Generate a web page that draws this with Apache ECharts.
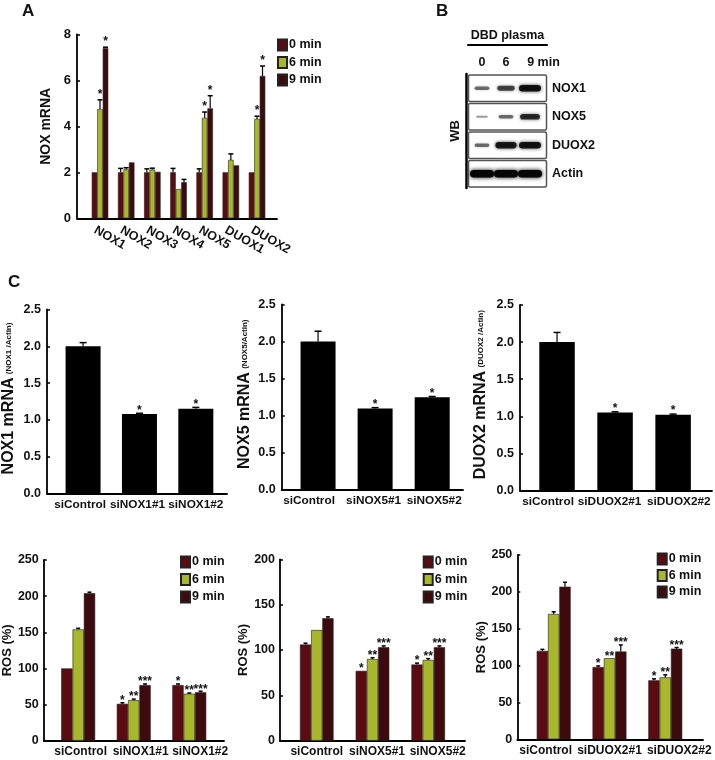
<!DOCTYPE html>
<html><head><meta charset="utf-8">
<script src="https://cdn.jsdelivr.net/npm/echarts@6/dist/echarts.min.js"></script>
<style>html,body{margin:0;padding:0;background:#fff}#c{width:715px;height:760px}</style>
</head><body><div id="c"></div>
<script>
// ================= DATA =================
const timeNames = ['0 min', '6 min', '9 min'];

// Panel A
const catsA = ['NOX1', 'NOX2', 'NOX3', 'NOX4', 'NOX5', 'DUOX1', 'DUOX2'];
const yTicksA = [0, 2, 4, 6, 8];
const a0 = [2.0, 2.0, 2.0, 2.0, 2.0, 2.0, 2.0];
const a0Err = [0, 0.17, 0.15, 0.17, 0.15, 0, 0];
const a6 = [4.75, 2.13, 2.12, 1.27, 4.37, 2.54, 4.32];
const a6Err = [0.4, 0.07, 0.06, 0, 0.25, 0.26, 0.12];
const a9 = [7.4, 2.43, 2.02, 1.57, 4.78, 2.3, 6.19];
const a9Err = [0.04, 0, 0, 0.12, 0.55, 0, 0.43];
const a0Sig = ['', '', '', '', '', '', ''];
const a6Sig = ['*', '', '', '', '*', '', '*'];
const a9Sig = ['*', '', '', '', '*', '', '*'];

// Panel B (western blot band intensities, lanes 0/6/9 min)
const blotLanes = ['0', '6', '9 min'];
const blotProteins = ['NOX1', 'NOX5', 'DUOX2', 'Actin'];
const bandNOX1 = [0.35, 0.55, 0.85];
const bandNOX5 = [0.12, 0.35, 0.7];
const bandDUOX2 = [0.35, 0.8, 0.85];
const bandActin = [1.0, 1.0, 1.0];

// Panel C – mRNA
const yTicksM = [0, 0.5, 1.0, 1.5, 2.0, 2.5];
const catsN1 = ['siControl', 'siNOX1#1', 'siNOX1#2'];
const mN1 = [2.0, 1.08, 1.15];
const mN1Err = [0.05, 0.01, 0.02];
const catsN5 = ['siControl', 'siNOX5#1', 'siNOX5#2'];
const mN5 = [2.0, 1.1, 1.25];
const mN5Err = [0.14, 0.01, 0.01];
const catsD2 = ['siControl', 'siDUOX2#1', 'siDUOX2#2'];
const mD2 = [2.0, 1.05, 1.02];
const mD2Err = [0.13, 0.01, 0.01];
const mSig = ['', '*', '*'];

// Panel C – ROS
const yTicksR1 = [0, 50, 100, 150, 200, 250];
const yTicksR2 = [0, 50, 100, 150, 200];
const yTicksR3 = [0, 50, 100, 150, 200, 250];
const r1_0 = [100, 51, 77], r1_0Err = [0, 1.5, 1.5];
const r1_6 = [154, 56, 65], r1_6Err = [1.5, 1.5, 1];
const r1_9 = [204, 77, 67], r1_9Err = [1.5, 1.5, 1.5];
const r2_0 = [106, 77, 84], r2_0Err = [1.5, 0, 1.5];
const r2_6 = [122, 90, 89], r2_6Err = [0, 1.5, 1.5];
const r2_9 = [135, 103, 103], r2_9Err = [1.5, 1.5, 1.5];
const r3_0 = [120, 98, 80], r3_0Err = [2, 1.5, 2];
const r3_6 = [170, 110, 84], r3_6Err = [3, 0, 3.5];
const r3_9 = [207, 119, 123], r3_9Err = [6, 9, 1.5];
const rSig0 = ['', '*', '*'];
const rSig6 = ['', '**', '**'];
const rSig9 = ['', '***', '***'];

// ================= STYLE =================
const FN = '"Liberation Sans", Arial, sans-serif';
const FR = '"Liberation Sans", Arial, sans-serif';
const C0 = '#5b0c12', C6 = '#a8b82a', C9 = '#3d0a0e';
const TXT = '#111';

const option = { animation: false, backgroundColor: '#fff', title: [], grid: [], xAxis: [], yAxis: [], legend: [], series: [] };

function addBarChart(cfg) {
  option.grid.push({ left: cfg.left, top: cfg.top, width: cfg.width, height: cfg.height });
  const gi = option.grid.length - 1;
  const xi = option.xAxis.length, yi = option.yAxis.length;
  const pxPerUnit = cfg.width / (cfg.xMax - cfg.xMin);
  const shifts = cfg.labelShift || cfg.cats.map(() => 0);
  option.xAxis.push({
    type: 'value', gridIndex: gi, min: cfg.xMin, max: cfg.xMax,
    axisLine: { show: true, onZero: false, lineStyle: { color: '#000', width: 1.8 } },
    axisTick: { show: false }, splitLine: { show: false },
    axisLabel: {
      show: true, showMinLabel: true, showMaxLabel: true, hideOverlap: false,
      customValues: cfg.cats.map((c, i) => i + shifts[i] / pxPerUnit),
      formatter: v => cfg.cats[Math.round(v)],
      fontFamily: FN, fontWeight: 'bold', fontSize: cfg.xFont, color: TXT,
      margin: cfg.xMargin, rotate: cfg.rotate || 0
    }
  });
  const t = cfg.ticks;
  option.yAxis.push({
    type: 'value', gridIndex: gi, min: t[0], max: t[t.length - 1], interval: t[1] - t[0],
    axisLine: { show: true, onZero: false, lineStyle: { color: '#000', width: 1.8 } },
    axisTick: { show: true, inside: true, length: 3, lineStyle: { color: '#000', width: 1.5 } },
    splitLine: { show: false },
    axisLabel: { formatter: cfg.yFmt, fontFamily: FN, fontWeight: 'bold', fontSize: cfg.yFont, color: TXT, margin: cfg.yMargin },
    name: cfg.yName, nameLocation: 'middle', nameGap: cfg.nameGap,
    nameTextStyle: cfg.nameStyle
  });
  const nG = cfg.groups.length;
  cfg.groups.forEach(grp => {
    option.series.push({
      type: 'bar', name: grp.name, xAxisIndex: xi, yAxisIndex: yi,
      barWidth: cfg.barW, barGap: '0%', silent: true,
      data: grp.vals.map((v, i) => [i, v]),
      itemStyle: { color: grp.color, borderColor: cfg.border, borderWidth: cfg.borderW }
    });
  });
  cfg.groups.forEach((grp, k) => {
    option.series.push({
      type: 'custom', xAxisIndex: xi, yAxisIndex: yi, z: 5, silent: true,
      data: grp.vals.map((v, i) => [i, v, grp.err[i]]),
      renderItem: (params, api) => {
        const i = api.value(0), v = api.value(1), e = api.value(2);
        const p = api.coord([i, v]);
        const x = p[0] + (k - (nG - 1) / 2) * cfg.barW;
        const yTop = api.coord([i, v + e])[1];
        const ch = [];
        if (e > 0) {
          ch.push({ type: 'line', shape: { x1: x, y1: p[1], x2: x, y2: yTop }, style: { stroke: '#000', lineWidth: 1.2 } });
          ch.push({ type: 'line', shape: { x1: x - cfg.cap / 2, y1: yTop, x2: x + cfg.cap / 2, y2: yTop }, style: { stroke: '#000', lineWidth: 1.5 } });
        }
        const s = grp.sig[params.dataIndex];
        if (s) ch.push({ type: 'text', style: { text: s, x: x, y: yTop - cfg.sigGap, align: 'center', verticalAlign: 'bottom', fontFamily: FN, fontWeight: 'bold', fontSize: cfg.sigFont, fill: TXT } });
        return { type: 'group', children: ch };
      }
    });
  });
}

function addLegend(left, top, gap) {
  option.legend.push({
    data: timeNames, orient: 'vertical', left: left, top: top, padding: 0,
    itemWidth: 9, itemHeight: 11, itemGap: gap, icon: 'rect', selectedMode: false,
    textStyle: { fontFamily: FN, fontWeight: 'bold', fontSize: 12.5, color: TXT, padding: [0, 0, 0, -3] }
  });
}

const nameBig = { fontFamily: FR, fontWeight: 'bold', fontSize: 14, color: TXT };
const richName = { rich: { a: { fontFamily: FR, fontWeight: 'bold', fontSize: 16, color: TXT, padding: [0, 0, 0, 6] }, b: { fontFamily: FR, fontWeight: 'bold', fontSize: 8, color: TXT, verticalAlign: 'middle' } } };
const fmt1 = v => v.toFixed(1);

// ---------- Panel A ----------
addBarChart({
  left: 77, top: 34.3, width: 200, height: 184, xMin: -0.879, xMax: 6.764,
  cats: catsA, ticks: yTicksA, xFont: 12.5, xMargin: 11, rotate: -30, labelShift: [-5, -5, -5, -5, -5, -5, -5],
  yFont: 13, yMargin: 6, yFmt: v => String(v),
  yName: 'NOX mRNA', nameGap: 24, nameStyle: nameBig,
  barW: 5.5, border: '#222', borderW: 0.6, cap: 5, sigGap: -1, sigFont: 12,
  groups: [
    { name: timeNames[0], vals: a0, err: a0Err, sig: a0Sig, color: C0 },
    { name: timeNames[1], vals: a6, err: a6Err, sig: a6Sig, color: C6 },
    { name: timeNames[2], vals: a9, err: a9Err, sig: a9Sig, color: C9 }
  ]
});
addLegend(277, 38.5, 4.5);

// ---------- Panel C mRNA ----------
addBarChart({
  left: 45, top: 309.5, width: 182, height: 184, xMin: -0.640, xMax: 2.553,
  cats: catsN1, ticks: yTicksM, xFont: 11.8, xMargin: 5, labelShift: [-3, -2, 0],
  yFont: 12.5, yMargin: 6, yFmt: fmt1,
  yName: '{a|NOX1 mRNA} {b|(NOX1 /Actin)}', nameGap: 30, nameStyle: richName,
  barW: 35, border: '#000', borderW: 0, cap: 7, sigGap: -3, sigFont: 12,
  groups: [{ name: 'NOX1 mRNA', vals: mN1, err: mN1Err, sig: mSig, color: '#000' }]
});
addBarChart({
  left: 281.7, top: 304.5, width: 181.3, height: 185.5, xMin: -0.637, xMax: 2.54,
  cats: catsN5, ticks: yTicksM, xFont: 11.8, xMargin: 5, labelShift: [-9, -1.5, 2],
  yFont: 12.5, yMargin: 6, yFmt: fmt1,
  yName: '{a|NOX5 mRNA} {b|(NOX5/Actin)}', nameGap: 29, nameStyle: richName,
  barW: 35, border: '#000', borderW: 0, cap: 7, sigGap: -3, sigFont: 12,
  groups: [{ name: 'NOX5 mRNA', vals: mN5, err: mN5Err, sig: mSig, color: '#000' }]
});
addBarChart({
  left: 520, top: 305, width: 192, height: 185.5, xMin: -0.638, xMax: 2.67,
  cats: catsD2, ticks: yTicksM, xFont: 11.8, xMargin: 5, labelShift: [-9, -5.5, 5.7],
  yFont: 12.5, yMargin: 6, yFmt: fmt1,
  yName: '{a|DUOX2 mRNA} {b|(DUOX2 /Actin)}', nameGap: 31, nameStyle: richName,
  barW: 35.5, border: '#000', borderW: 0, cap: 7, sigGap: -3, sigFont: 12,
  groups: [{ name: 'DUOX2 mRNA', vals: mD2, err: mD2Err, sig: mSig, color: '#000' }]
});

// ---------- Panel C ROS ----------
const rosName = { fontFamily: FR, fontWeight: 'bold', fontSize: 13, color: TXT };
function rosGroups(v0, e0, v6, e6, v9, e9) {
  return [
    { name: timeNames[0], vals: v0, err: e0, sig: rSig0, color: C0 },
    { name: timeNames[1], vals: v6, err: e6, sig: rSig6, color: C6 },
    { name: timeNames[2], vals: v9, err: e9, sig: rSig9, color: C9 }
  ];
}
addBarChart({
  left: 42.3, top: 560, width: 181.7, height: 180.7, xMin: -0.62, xMax: 2.625,
  cats: catsN1, ticks: yTicksR1, xFont: 12, xMargin: 5, labelShift: [2.5, 7, 11],
  yFont: 12.5, yMargin: 5, yFmt: v => String(v),
  yName: 'ROS (%)', nameGap: 28, nameStyle: rosName,
  barW: 11.3, border: '#222', borderW: 0.6, cap: 4, sigGap: -4, sigFont: 12,
  groups: rosGroups(r1_0, r1_0Err, r1_6, r1_6Err, r1_9, r1_9Err)
});
addLegend(180, 555.5, 4.5);
addBarChart({
  left: 280, top: 559.3, width: 185, height: 181.4, xMin: -0.659, xMax: 2.66,
  cats: catsN5, ticks: yTicksR2, xFont: 12, xMargin: 5, labelShift: [0, 4.5, 9.5],
  yFont: 12.5, yMargin: 5, yFmt: v => String(v),
  yName: 'ROS (%)', nameGap: 27, nameStyle: rosName,
  barW: 11.2, border: '#222', borderW: 0.6, cap: 4, sigGap: -4, sigFont: 12,
  groups: rosGroups(r2_0, r2_0Err, r2_6, r2_6Err, r2_9, r2_9Err)
});
addLegend(422.7, 555.5, 4.5);
addBarChart({
  left: 517.3, top: 555, width: 185.7, height: 184.3, xMin: -0.652, xMax: 2.676,
  cats: catsD2, ticks: yTicksR3, xFont: 12, xMargin: 5, labelShift: [-8, 0, 14],
  yFont: 12.5, yMargin: 5, yFmt: v => String(v),
  yName: 'ROS (%)', nameGap: 27, nameStyle: rosName,
  barW: 11.3, border: '#222', borderW: 0.6, cap: 4, sigGap: -4, sigFont: 12,
  groups: rosGroups(r3_0, r3_0Err, r3_6, r3_6Err, r3_9, r3_9Err)
});
addLegend(656.7, 552.5, 3.5);

// ---------- Panel B: western blot ----------
option.grid.push({ left: 468, top: 74, width: 79, height: 114 });
const gB = option.grid.length - 1;
const bx = option.xAxis.length;
option.xAxis.push({
  type: 'value', gridIndex: gB, position: 'top', min: -0.583, max: 2.708,
  axisLine: { show: false }, axisTick: { show: false }, splitLine: { show: false },
  axisLabel: {
    customValues: blotLanes.map((l, i) => i), margin: 5, showMinLabel: true, showMaxLabel: true,
    formatter: v => { const t = blotLanes[Math.round(v)]; const sp = t.indexOf(' '); return sp < 0 ? t : '{pad|}' + t; },
    fontFamily: FN, fontWeight: 'bold', fontSize: 12.5, color: TXT,
    rich: { pad: { width: 27 } }
  }
});
option.xAxis.push({
  type: 'value', gridIndex: gB, position: 'top', offset: 29, min: 0, max: 1,
  axisLine: { show: true, lineStyle: { color: '#000', width: 2 } },
  axisTick: { show: false }, axisLabel: { show: false }, splitLine: { show: false },
  name: 'DBD plasma', nameLocation: 'middle', nameGap: 3,
  nameTextStyle: { fontFamily: FN, fontWeight: 'bold', fontSize: 12.5, color: TXT }
});
const by = option.yAxis.length;
option.yAxis.push({
  type: 'category', gridIndex: gB, data: blotProteins, inverse: true, position: 'right',
  axisLine: { show: false }, axisTick: { show: false }, splitLine: { show: false },
  axisLabel: { fontFamily: FN, fontWeight: 'bold', fontSize: 12.5, color: TXT, margin: 5 }
});
option.yAxis.push({
  type: 'value', gridIndex: gB, position: 'left', offset: 2, min: 0, max: 1,
  axisLine: { show: true, onZero: false, lineStyle: { color: '#000', width: 2.5 } },
  axisTick: { show: false }, axisLabel: { show: false }, splitLine: { show: false },
  name: 'WB', nameLocation: 'middle', nameRotate: 90, nameGap: 4,
  nameTextStyle: { fontFamily: FR, fontWeight: 'bold', fontSize: 13, color: TXT }
});
const bands = [bandNOX1, bandNOX5, bandDUOX2, bandActin];
const bandData = [];
bands.forEach((row, p) => row.forEach((I, l) => bandData.push([l, p, I])));
option.series.push({
  type: 'custom', xAxisIndex: bx, yAxisIndex: by, silent: true, z: 3,
  data: bandData,
  renderItem: (params, api) => {
    const l = api.value(0), p = api.value(1), I = api.value(2);
    const c = api.coord([l, p]);
    const w = 10 + 14 * I, h = 1.5 + 6 * I;
    const col = 'rgba(5,5,5,' + (0.25 + 0.75 * I).toFixed(2) + ')';
    return { type: 'rect', shape: { x: c[0] - w / 2, y: c[1] - h / 2, width: w, height: h, r: h / 2 },
      style: { fill: col, shadowBlur: 2 + 2 * I, shadowColor: col } };
  }
});
option.series.push({
  type: 'custom', xAxisIndex: bx, yAxisIndex: by, silent: true, z: 4,
  data: blotProteins.map((n, p) => [0, p]),
  renderItem: (params, api) => {
    const cs = params.coordSys;
    const c = api.coord([0, api.value(1)]);
    const bh = api.size([0, 1])[1];
    return { type: 'rect', shape: { x: cs.x + 0.5, y: c[1] - bh / 2 + 1, width: cs.width - 1, height: bh - 2, r: 1.5 },
      style: { fill: 'none', stroke: '#555', lineWidth: 1.5 } };
  }
});

// ---------- Panel letters ----------
const letterStyle = { fontFamily: FR, fontWeight: 'bold', fontSize: 17, color: TXT };
option.title = [
  { text: 'A', left: 22, top: 3, padding: 0, textStyle: letterStyle },
  { text: 'B', left: 436, top: 3, padding: 0, textStyle: letterStyle },
  { text: 'C', left: 8, top: 274, padding: 0, textStyle: letterStyle }
];

const chart = echarts.init(document.getElementById('c'), null, { renderer: 'canvas' });
chart.setOption(option);
</script>
</body></html>
